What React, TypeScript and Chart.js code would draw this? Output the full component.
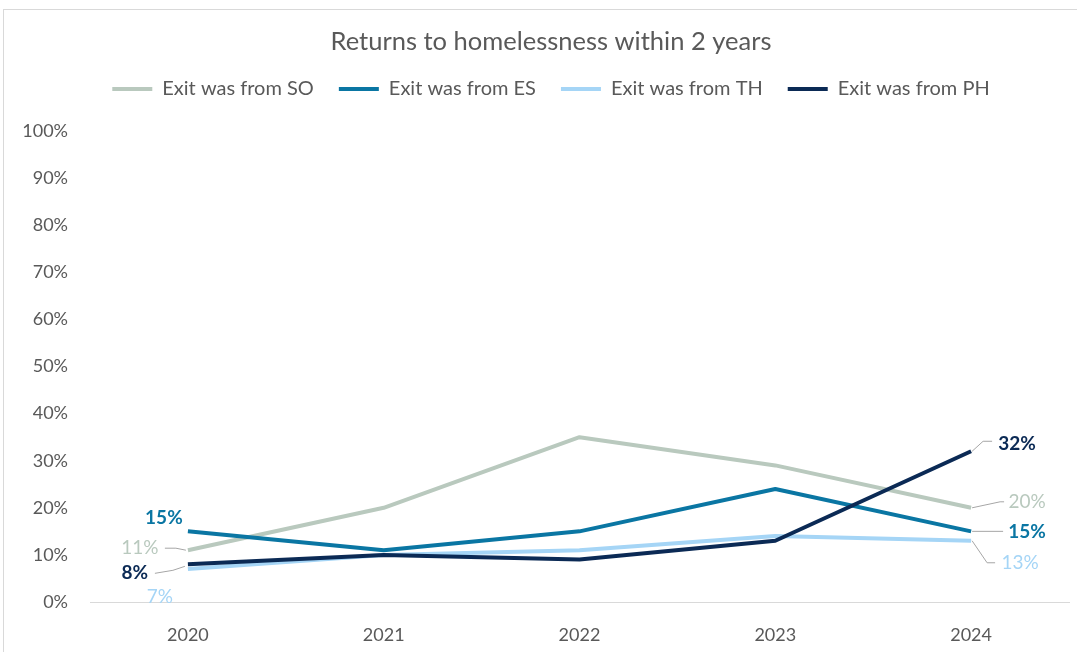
import React, { useEffect, useRef } from "react";
import { Chart, registerables } from "chart.js";

Chart.register(...registerables);

// ---------- data ----------
const years = ["2020", "2021", "2022", "2023", "2024"];
const seriesNames = ["Exit was from SO", "Exit was from ES", "Exit was from TH", "Exit was from PH"];
const exitSO = [11, 20, 35, 29, 20];
const exitES = [15, 11, 15, 24, 15];
const exitTH = [7, 10, 11, 14, 13];
const exitPH = [8, 10, 9, 13, 32];
const yMin = 0;
const yMax = 100;
const yStep = 10;

// ---------- styles ----------
const seriesColors = ["#B9C9BE", "#0A76A3", "#A5D5F6", "#0B2A55"];
const boldLabels = [false, true, false, true];
const FONT = "Lato, 'Open Sans', sans-serif";
const TEXT = "#595959";

// label placement (pixel offsets from the point) for first and last values
type Place = { dx: number; dy: number; leader?: number[][] };
const labelPlacements: { first: Place; last: Place }[] = [
  {
    first: { dx: -48, dy: -2, leader: [[-23, -2], [-12, -2], [-2, 0]] },
    last: { dx: 56, dy: -6, leader: [[1, 0], [29, -6], [33, -6]] },
  },
  {
    first: { dx: -24, dy: -13 },
    last: { dx: 56, dy: 1, leader: [[1, 0], [32, 0]] },
  },
  {
    first: { dx: -28, dy: 28 },
    last: { dx: 49, dy: 22, leader: [[1, 0], [16, 22], [24, 22]] },
  },
  {
    first: { dx: -53, dy: 9, leader: [[-33, 9], [-15, 6], [-3, 2]] },
    last: { dx: 46, dy: -7, leader: [[1, 0], [12, -10], [21, -10]] },
  },
];

const legendGapPlugin = {
  id: "legendGap",
  beforeLayout(chart: any) {
    const lg = chart.legend;
    if (lg && !lg.__gapPatched) {
      const orig = lg.fit;
      lg.fit = function () {
        orig.call(this);
        this.height += 22;
      };
      lg.__gapPatched = true;
    }
  },
};

const endLabelsPlugin = {
  id: "endLabels",
  afterDatasetsDraw(chart: any) {
    const ctx = chart.ctx;
    chart.data.datasets.forEach((ds: any, di: number) => {
      const meta = chart.getDatasetMeta(di);
      const place = labelPlacements[di];
      const items: [Place, number][] = [
        [place.first, 0],
        [place.last, ds.data.length - 1],
      ];
      items.forEach(([p, idx]) => {
        const pt = meta.data[idx];
        if (!pt) return;
        const x = pt.x;
        const y = pt.y;
        if (p.leader) {
          ctx.save();
          ctx.strokeStyle = "#A6A6A6";
          ctx.lineWidth = 1;
          ctx.beginPath();
          p.leader.forEach(([lx, ly], j) => {
            if (j === 0) ctx.moveTo(x + lx, y + ly);
            else ctx.lineTo(x + lx, y + ly);
          });
          ctx.stroke();
          ctx.restore();
        }
        ctx.save();
        ctx.font = `${boldLabels[di] ? "bold " : ""}19px ${FONT}`;
        ctx.fillStyle = ds.borderColor;
        ctx.textAlign = "center";
        ctx.textBaseline = "middle";
        ctx.fillText(Math.round(ds.data[idx]) + "%", x + p.dx, y + p.dy);
        ctx.restore();
      });
    });
  },
};

export default function App() {
  const canvasRef = useRef<HTMLCanvasElement | null>(null);

  useEffect(() => {
    if (!canvasRef.current) return;
    const values = [exitSO, exitES, exitTH, exitPH];
    const order = [4, 3, 2, 1];
    const chart = new Chart(canvasRef.current, {
      type: "line",
      data: {
        labels: years,
        datasets: seriesNames.map((name, i) => ({
          label: name,
          data: values[i],
          borderColor: seriesColors[i],
          backgroundColor: seriesColors[i],
          borderWidth: 4,
          pointRadius: 0,
          pointHoverRadius: 0,
          tension: 0,
          fill: false,
          borderJoinStyle: "round" as const,
          order: order[i],
          yAxisID: "y",
        })),
      },
      options: {
        responsive: false,
        animation: false,
        devicePixelRatio: 1,
        layout: { padding: { top: 24.5, left: 0, right: 0, bottom: 0 } },
        plugins: {
          tooltip: { enabled: false },
          title: {
            display: true,
            text: "Returns to homelessness within 2 years",
            color: TEXT,
            font: { family: FONT, size: 25.5, weight: "normal", lineHeight: 0.6 },
            padding: { top: 0, bottom: 4.2 },
          },
          legend: {
            display: true,
            position: "top",
            labels: {
              color: TEXT,
              font: { family: FONT, size: 20 },
              boxWidth: 40,
              boxHeight: 4,
              padding: 25,
              generateLabels: (c: any) =>
                c.data.datasets.map((ds: any, i: number) => ({
                  text: ds.label,
                  fillStyle: ds.borderColor,
                  strokeStyle: ds.borderColor,
                  lineWidth: 0,
                  hidden: false,
                  datasetIndex: i,
                  fontColor: TEXT,
                })),
            },
          },
        },
        scales: {
          x: {
            offset: true,
            grid: { display: false, drawTicks: false, offset: true },
            border: { display: true, color: "#D9D9D9", width: 1 },
            ticks: { color: TEXT, font: { family: FONT, size: 18 }, padding: 22 },
            afterFit: (s: any) => {
              s.height = 50;
            },
          },
          y: {
            min: yMin,
            max: yMax,
            grid: { display: false, drawTicks: false },
            border: { display: false },
            ticks: {
              stepSize: yStep,
              color: TEXT,
              font: { family: FONT, size: 18 },
              padding: 22,
              callback: (v: any) => v + "%",
            },
            afterFit: (s: any) => {
              s.width = 86;
            },
          },
          yRightSpace: {
            type: "linear",
            position: "right",
            display: true,
            grid: { display: false, drawTicks: false },
            border: { display: false },
            ticks: { display: false },
            afterFit: (s: any) => {
              s.width = 29;
            },
          },
        },
      },
      plugins: [legendGapPlugin, endLabelsPlugin],
    } as any);
    return () => chart.destroy();
  }, []);

  return (
    <div
      style={{
        position: "fixed",
        left: 0,
        top: 0,
        width: 1077,
        height: 652,
        overflow: "hidden",
        background: "#fff",
      }}
    >
      <div
        style={{
          position: "absolute",
          left: 3,
          top: 9,
          width: 1094,
          height: 660,
          borderLeft: "1px solid #D9D9D9",
          borderTop: "1px solid #D9D9D9",
        }}
      >
        <canvas ref={canvasRef} width={1094} height={642} style={{ display: "block" }} />
      </div>
    </div>
  );
}
